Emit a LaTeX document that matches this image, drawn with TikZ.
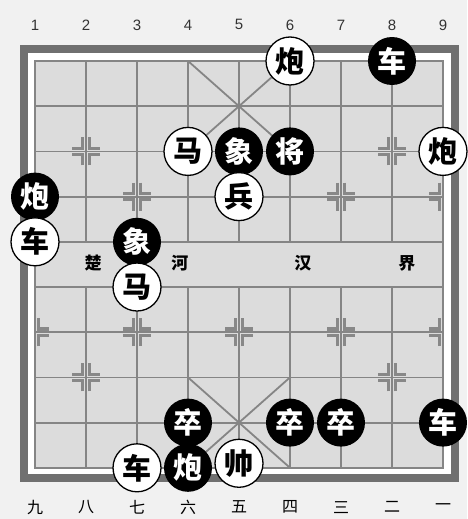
\documentclass[tikz,border=0pt]{standalone}
\usepackage{fontspec}
\setmainfont{Liberation Sans}
\newfontfamily\cjk{Noto Sans CJK SC}
\definecolor{pagebg}{HTML}{F1F1F1}
\definecolor{boardbg}{HTML}{DCDCDC}
\definecolor{gridgray}{HTML}{858585}
\definecolor{framegray}{HTML}{707070}
\definecolor{markgray}{HTML}{888888}
\tikzset{
  gridline/.style={draw=gridgray, line width=1.8pt},
  frameline/.style={draw=framegray, line width=8pt},
  markline/.style={draw=markgray, line width=3.2pt},
  piece/.style={circle, minimum size=48pt, inner sep=0pt, font=\cjk\bfseries\fontsize{29}{29}\selectfont},
  redpiece/.style={piece, draw=black, line width=1.3pt, fill=white, text=black},
  blackpiece/.style={piece, fill=black, text=white},
  filenum/.style={font=\fontsize{15}{15}\selectfont, text=black!80},
  filecn/.style={font=\cjk\fontsize{16}{16}\selectfont},
  rivertext/.style={font=\cjk\bfseries\fontsize{17}{17}\selectfont},
  markleft/.pic={\draw[markline] (-3.2pt,14pt) -- (-3.2pt,3.2pt) -- (-14pt,3.2pt)
                   (-3.2pt,-14pt) -- (-3.2pt,-3.2pt) -- (-14pt,-3.2pt);},
  markright/.pic={\draw[markline] (3.2pt,14pt) -- (3.2pt,3.2pt) -- (14pt,3.2pt)
                   (3.2pt,-14pt) -- (3.2pt,-3.2pt) -- (14pt,-3.2pt);}
}

\begin{document}
\begin{tikzpicture}[x=51pt, y=-45.2pt]
  % page, frame and board
  \fill[pagebg] (-0.6863,-1.3496) rectangle (8.4706,10.1327);
  \useasboundingbox (-0.6863,-1.3496) rectangle (8.4706,10.1327);
  \draw[frameline, fill=white] ([xshift=-11pt,yshift=12pt]0,0) rectangle ([xshift=12pt,yshift=-10pt]8,9);
  \fill[boardbg] (0,0) rectangle (8,9);

  % grid
  \draw[gridline] (0,0) rectangle (8,9);
  \foreach \r in {1,...,8} \draw[gridline] (0,\r) -- (8,\r);
  \foreach \c in {1,...,7} \draw[gridline] (\c,0) -- (\c,4) (\c,5) -- (\c,9);
  \draw[gridline] (3,0) -- (5,2) (5,0) -- (3,2) (3,7) -- (5,9) (5,7) -- (3,9);

  % cannon and soldier points
  \foreach \c/\r in {1/2,7/2,1/7,7/7,2/3,4/3,6/3,2/6,4/6,6/6} {
    \pic at (\c,\r) {markleft};
    \pic at (\c,\r) {markright};
  }
  \foreach \r in {3,6} {
    \pic at (0,\r) {markright};
    \pic at (8,\r) {markleft};
  }

  % file numbers
  \foreach \i in {1,...,9} \node[filenum] (num\i) at (\i-1,-0.8) {\i};
  \foreach \cn [count=\i from 0] in {九,八,七,六,五,四,三,二,一} \node[filecn] (cn\i) at (\i,9.87) {\cn};

  % river
  \node[rivertext] (chu) at (1.14,4.47) {楚};
  \node[rivertext] (he) at (2.84,4.47) {河};
  \node[rivertext] (han) at (5.25,4.47) {汉};
  \node[rivertext] (jie) at (7.29,4.47) {界};

  % black pieces
  \node[blackpiece] (bju1) at (7,0) {车};
  \node[blackpiece] (bxiang1) at (4,2) {象};
  \node[blackpiece] (bjiang) at (5,2) {将};
  \node[blackpiece] (bpao1) at (0,3) {炮};
  \node[blackpiece] (bxiang2) at (2,4) {象};
  \node[blackpiece] (bzu1) at (3,8) {卒};
  \node[blackpiece] (bzu2) at (5,8) {卒};
  \node[blackpiece] (bzu3) at (6,8) {卒};
  \node[blackpiece] (bju2) at (8,8) {车};
  \node[blackpiece] (bpao2) at (3,9) {炮};

  % red pieces
  \node[redpiece] (rpao1) at (5,0) {炮};
  \node[redpiece] (rma1) at (3,2) {马};
  \node[redpiece] (rpao2) at (8,2) {炮};
  \node[redpiece] (rbing) at (4,3) {兵};
  \node[redpiece] (rju1) at (0,4) {车};
  \node[redpiece] (rma2) at (2,5) {马};
  \node[redpiece] (rju2) at (2,9) {车};
  \node[redpiece] (rshuai) at (4,8.9) {帅};
\end{tikzpicture}
\end{document}
